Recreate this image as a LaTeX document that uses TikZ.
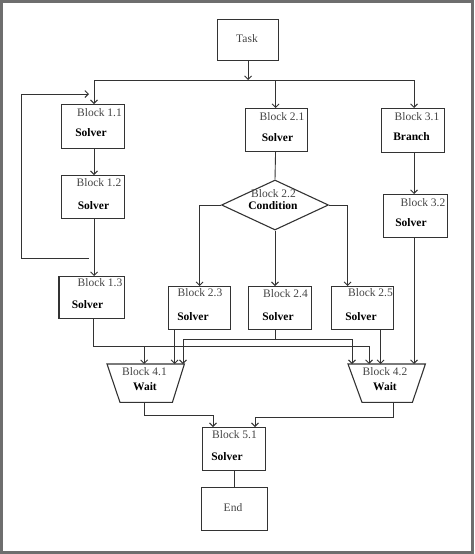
\documentclass[tikz,border=0pt]{standalone}
\usepackage{fontspec}
\setmainfont{Liberation Serif}
\usetikzlibrary{arrows.meta,shapes.geometric,calc}
\definecolor{ln}{HTML}{333333}
\definecolor{tx}{HTML}{444444}
\definecolor{frm}{HTML}{6E6E6E}
\tikzset{
  box/.style={draw=ln,line width=1.1pt,inner sep=0pt,anchor=north west},
  ghost/.style={inner sep=0pt,anchor=north west},
  lbl/.style={text=tx,inner sep=0pt,font=\fontsize{11.5}{13}\selectfont},
  bld/.style={text=black,inner sep=0pt,font=\fontsize{11.5}{13}\selectfont\bfseries},
  wire/.style={draw=ln,line width=0.9pt},
  arr/.style={wire,-{Straight Barb[length=3.5pt,width=7pt]}}
}
\begin{document}
\begin{tikzpicture}[x=1pt,y=-1pt]
\useasboundingbox (0,0) rectangle (474,554);
\draw[line width=3pt,color=frm] (1.5,1.5) rectangle (472.5,552.5);

% boxes
\node[box,minimum width=61pt,minimum height=41pt] (task) at (217,19) {};
\node[box,minimum width=63pt,minimum height=44pt] (b11) at (61,104) {};
\node[box,minimum width=63pt,minimum height=43pt] (b12) at (61,175) {};
\node[box,minimum width=65pt,minimum height=42pt] (b13) at (59,276) {};
\draw[draw=ln,line width=2.2pt] (b13.north west) -- (b13.south west);
\node[box,minimum width=62pt,minimum height=43pt] (b21) at (245,108) {};
\node[draw=ln,line width=1.1pt,diamond,aspect=2.14,inner sep=0pt,minimum width=107pt,minimum height=50pt] (b22) at (275,205) {};
\node[box,minimum width=62pt,minimum height=43pt] (b23) at (168,286) {};
\node[box,minimum width=63pt,minimum height=43pt] (b24) at (248,286) {};
\node[box,minimum width=62pt,minimum height=43pt] (b25) at (331,286) {};
\node[box,minimum width=63pt,minimum height=44pt] (b31) at (381,108) {};
\node[box,minimum width=64pt,minimum height=43pt] (b32) at (383,194) {};
\node[ghost,minimum width=77pt,minimum height=38pt] (b41) at (107,364) {};
\draw[draw=ln,line width=1.1pt] (b41.north west) -- (b41.north east) -- ([xshift=-12pt]b41.south east) -- ([xshift=13pt]b41.south west) -- cycle;
\node[ghost,minimum width=77pt,minimum height=38pt] (b42) at (348,364) {};
\draw[draw=ln,line width=1.1pt] (b42.north west) -- (b42.north east) -- ([xshift=-13pt]b42.south east) -- ([xshift=14pt]b42.south west) -- cycle;
\node[box,minimum width=63pt,minimum height=43pt] (b51) at (202,427) {};
\node[box,minimum width=66pt,minimum height=43pt] (end) at (201,487) {};

% texts
\node[lbl] (ttask) at (247,39) {Task};
\node[lbl] (t11a) at (99.5,113) {Block 1.1};
\node[bld] (t11b) at (91,133) {Solver};
\node[lbl] (t12a) at (99,183) {Block 1.2};
\node[bld] (t12b) at (93.5,206) {Solver};
\node[lbl] (t13a) at (100,283) {Block 1.3};
\node[bld] (t13b) at (87.5,305) {Solver};
\node[lbl] (t21a) at (282,117) {Block 2.1};
\node[bld] (t21b) at (277.5,138) {Solver};
\node[lbl] (t22a) at (273.5,194) {Block 2.2};
\node[bld] (t22b) at (273,206) {Condition};
\node[lbl] (t31a) at (417,117) {Block 3.1};
\node[bld] (t31b) at (411.5,137) {Branch};
\node[lbl] (t32a) at (423,203) {Block 3.2};
\node[bld] (t32b) at (411,223) {Solver};
\node[lbl] (t23a) at (200,293) {Block 2.3};
\node[bld] (t23b) at (193,317) {Solver};
\node[lbl] (t24a) at (285.5,294) {Block 2.4};
\node[bld] (t24b) at (278,317) {Solver};
\node[lbl] (t25a) at (370.5,293) {Block 2.5};
\node[bld] (t25b) at (361,317) {Solver};
\node[lbl] (t41a) at (144.5,372) {Block 4.1};
\node[bld] (t41b) at (145,387) {Wait};
\node[lbl] (t42a) at (385,372) {Block 4.2};
\node[bld] (t42b) at (385,387) {Wait};
\node[lbl] (t51a) at (234.5,435) {Block 5.1};
\node[bld] (t51b) at (227,457) {Solver};
\node[lbl] (tend) at (233,508) {End};

% coordinates
\coordinate (busL) at (94,80);
\coordinate (busR) at (414,80);
\coordinate (fbT) at (89,94);
\coordinate (fbB) at (89,258);
\coordinate (fb1) at (21,258);
\coordinate (fb2) at (21,94);
\coordinate (j13) at (369,346);
\coordinate (j24L) at (183,339);
\coordinate (j24R) at (352,339);
\coordinate (j41) at (213,415);
\coordinate (j42) at (255,417);

% connectors
\draw[wire] (busL) -- (busR);
\draw[arr] (task.south) -- (task.south |- busL);
\draw[arr] (busL) -- (busL |- b11.north);
\draw[arr] ([xshift=-1pt]b21.north |- busL) -- ([xshift=-1pt]b21.north);
\draw[arr] (busR) -- (busR |- b31.north);
\draw[arr] (b11.south -| busL) -- (busL |- b12.north);
\draw[arr] ([xshift=1pt]b12.south) -- ([xshift=1pt]b12.south |- b13.north);
\draw[arr] (fbB) -- (fb1) -- (fb2) -- (fbT);
\draw[wire] ([xshift=-1pt]b21.south) -- (b22.north);
\draw[arr] (b22.west) -| (b23.north);
\draw[arr] (b22.south) -- (b22.south |- b24.north);
\draw[arr] (b22.east) -| ([xshift=-15pt]b25.north);
\draw[arr] (b31.south -| busR) -- (busR |- b32.north);
\draw[arr] (b32.south -| busR) -- (busR |- b42.north);
\draw[wire] ([xshift=1.5pt]b13.south) |- (j13);
\draw[arr] (j13) -- (j13 |- b42.north);
\draw[arr] ([xshift=-1.5pt]b41.north |- j13) -- ([xshift=-1.5pt]b41.north);
\draw[arr] ([xshift=-25pt]b23.south) -- ([xshift=-25pt]b23.south |- b41.north);
\draw[wire] ([xshift=-4.5pt]b24.south) -- ([xshift=-4.5pt]b24.south |- j24L);
\draw[arr] (j24R) -- (j24L) -- (j24L |- b41.north);
\draw[arr] (j24L) -- (j24R) -- (j24R |- b42.north);
\draw[arr] ([xshift=18pt]b25.south) -- ([xshift=18pt]b25.south |- b42.north);
\draw[arr] ([xshift=-1.5pt]b41.south) |- (j41) -- (j41 |- b51.north);
\draw[arr] ([xshift=6.5pt]b42.south) |- (j42) -- (j42 |- b51.north);
\draw[wire] (b51.south) -- (b51.south |- end.north);
\end{tikzpicture}
\end{document}
